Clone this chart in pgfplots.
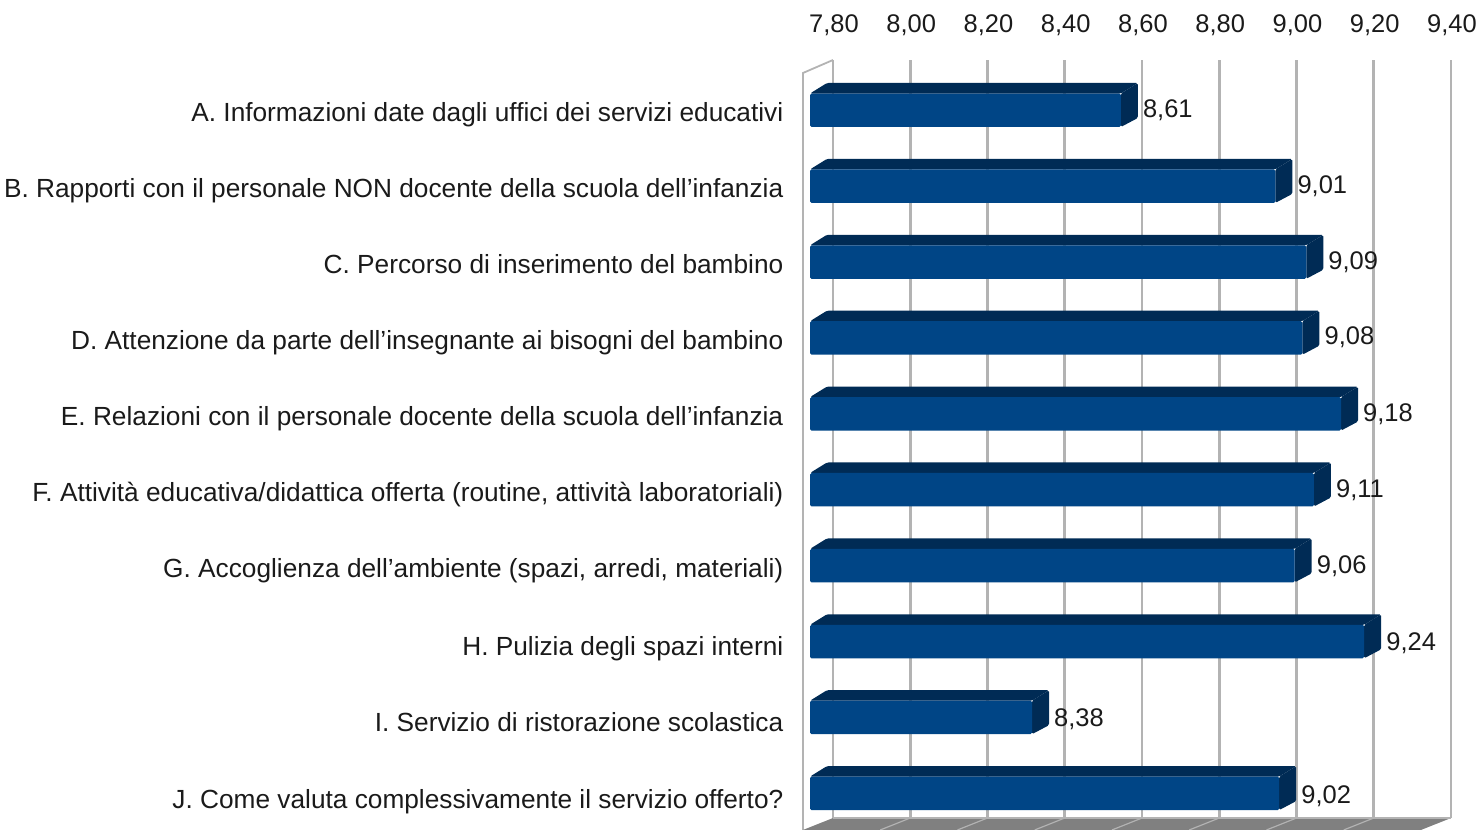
\documentclass[border=0pt]{standalone}
\usepackage{pgfplots}
\pgfplotsset{compat=1.18}
\usepackage{fontspec}
\setmainfont{Liberation Sans}
\definecolor{barfront}{HTML}{004586}
\definecolor{bardark}{HTML}{002B55}
\definecolor{gridc}{HTML}{B3B3B3}
\definecolor{floorc}{HTML}{808080}
\definecolor{textc}{HTML}{1A1A1A}
\newcommand\threeDbar[2]{%
  \pgfmathsetmacro\xB{7.8-0.0595}\pgfmathsetmacro\xBb{7.8-0.0155}%
  \pgfmathsetmacro\xF{#2-0.0647}\pgfmathsetmacro\xE{#2-0.0207}%
  \pgfmathsetmacro\yT{#1-0.2306+0.02}\pgfmathsetmacro\yD{#1+0.2306}%
  \pgfmathsetmacro\yTb{#1-0.2306-0.1186}\pgfmathsetmacro\yDb{#1+0.2306-0.1186}%
  \addplot[fill=bardark,draw=none,rounded corners=1.5pt] coordinates {(\xB,\yT) (\xBb,\yTb) (\xE,\yTb) (\xF,\yT)} --cycle;
  \addplot[fill=bardark,draw=none,rounded corners=1.5pt] coordinates {(\xF,\yT) (\xE,\yTb) (\xE,\yDb) (\xF,\yD)} --cycle;
  \addplot[fill=barfront,draw=none,rounded corners=1.5pt] coordinates {(\xB,\yT) (\xF,\yT) (\xF,\yD) (\xB,\yD)} --cycle;
}
\begin{document}
\begin{tikzpicture}
\path[use as bounding box] (-833pt,-12pt) rectangle (648pt,818pt);
\begin{axis}[
  at={(0pt,0pt)},anchor=south west,
  scale only axis,width=618pt,height=758pt,
  xmin=7.8,xmax=9.4,ymin=-0.652,ymax=9.335,
  y dir=reverse,clip=false,
  axis line style={draw=none},
  tick style={draw=none},
  major tick length=0pt,
  xtick={7.8,8.0,8.2,8.4,8.6,8.8,9.0,9.2,9.4},
  xticklabel pos=top,
  xmajorgrids,
  major grid style={gridc,line width=2.6pt},
  /pgf/number format/.cd,fixed,fixed zerofill,precision=2,use comma,assume math mode=true,
  /pgfplots/.cd,
  xticklabel style={font=\fontsize{25.5}{30}\selectfont,text=textc,anchor=center,inner sep=0pt,yshift=35pt,xshift=1pt},
  ytick={0,1,2,3,4,5,6,7.03,8.03,9.04},
  yticklabels={
    {A. Informazioni date dagli uffici dei servizi educativi},
    {B. Rapporti con il personale NON docente della scuola dell’infanzia},
    {C. Percorso di inserimento del bambino},
    {D. Attenzione da parte dell’insegnante ai bisogni del bambino},
    {E. Relazioni con il personale docente della scuola dell’infanzia},
    {F. Attività educativa/didattica offerta (routine, attività laboratoriali)},
    {G. Accoglienza dell’ambiente (spazi, arredi, materiali)},
    {H. Pulizia degli spazi interni},
    {I. Servizio di ristorazione scolastica},
    {J. Come valuta complessivamente il servizio offerto?}},
  yticklabel style={font=\fontsize{26.25}{30}\selectfont,text=textc,anchor=east,inner sep=0pt,xshift=-49.5pt,yshift=-5.5pt,text height=19pt,text depth=5pt},
  no markers,
]
% walls
\addplot[gridc,line width=1.8pt] coordinates {(7.7223,9.493) (7.7223,-0.481) (7.8,-0.652)};
% floor
\addplot[fill=floorc,draw=none] coordinates {(7.8,9.335) (9.4,9.335) (9.3223,9.493) (7.7223,9.493)} --cycle;
\addplot[gridc,line width=1.2pt] coordinates {(7.8,9.335) (9.4,9.335)};
\addplot[gridc,line width=1.2pt] coordinates {(8.0,9.335) (7.9223,9.493)};
\addplot[gridc,line width=1.2pt] coordinates {(8.2,9.335) (8.1223,9.493)};
\addplot[gridc,line width=1.2pt] coordinates {(8.4,9.335) (8.3223,9.493)};
\addplot[gridc,line width=1.2pt] coordinates {(8.6,9.335) (8.5223,9.493)};
\addplot[gridc,line width=1.2pt] coordinates {(8.8,9.335) (8.7223,9.493)};
\addplot[gridc,line width=1.2pt] coordinates {(9.0,9.335) (8.9223,9.493)};
\addplot[gridc,line width=1.2pt] coordinates {(9.2,9.335) (9.1223,9.493)};
% bars
\threeDbar{0}{8.61}
\threeDbar{1}{9.01}
\threeDbar{2}{9.09}
\threeDbar{3}{9.08}
\threeDbar{4}{9.18}
\threeDbar{5}{9.11}
\threeDbar{6}{9.06}
\threeDbar{7}{9.24}
\threeDbar{8}{8.38}
\threeDbar{9}{9.02}
% value labels
\addplot[draw=none,nodes near coords,point meta=explicit symbolic,
  nodes near coords style={anchor=west,inner sep=0pt,xshift=-3pt,yshift=-0.5pt,
    font=\fontsize{25.5}{30}\selectfont,text=textc}]
  table[meta=l,row sep=crcr] {x y l\\
    8.61 0 {8,61}\\ 9.01 1 {9,01}\\ 9.09 2 {9,09}\\ 9.08 3 {9,08}\\ 9.18 4.01 {9,18}\\
    9.11 5.01 {9,11}\\ 9.06 6.01 {9,06}\\ 9.24 7.03 {9,24}\\ 8.38 8.03 {8,38}\\ 9.02 9.04 {9,02}\\};
\end{axis}
\end{tikzpicture}
\end{document}
